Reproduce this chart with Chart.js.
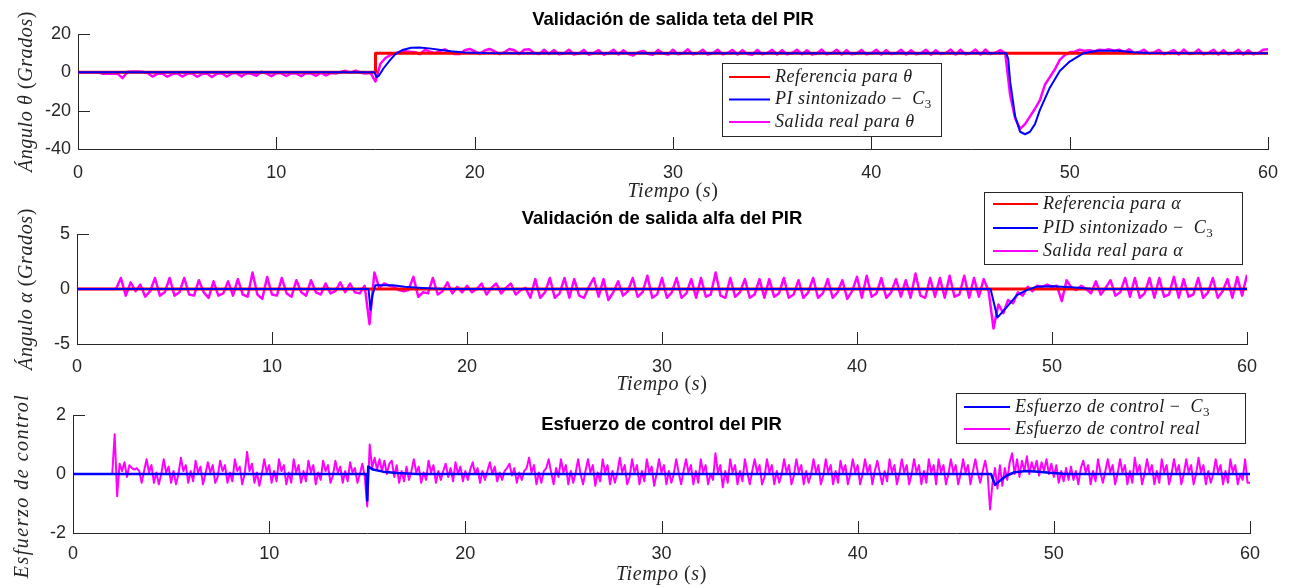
<!DOCTYPE html>
<html lang="es">
<head>
  <meta charset="UTF-8">
  <title>Validación PIR</title>
  <script src="https://cdn.jsdelivr.net/npm/chart.js"></script>
  <style>
    body { margin: 0; background: #fff; }
    #lienzo { position: relative; width: 1293px; height: 588px; overflow: hidden; }
    .panel { position: absolute; left: 0; }
  </style>
</head>
<body>
  <div id="lienzo">
    <canvas id="graficaTeta" class="panel" style="top:0" width="1293" height="205"></canvas>
    <canvas id="graficaAlfa" class="panel" style="top:185px" width="1293" height="210"></canvas>
    <canvas id="graficaEsfuerzo" class="panel" style="top:385px" width="1293" height="203"></canvas>
  </div>
  <script>
    // ---- ejes ----
    const tiempoGrueso = Array.from({ length: 241 }, (_, i) => i * 0.25);  // 0..60 s cada 0.25 s
    const tiempoFino = Array.from({ length: 481 }, (_, i) => i * 0.125);   // 0..60 s cada 0.125 s
    const ticksTiempo = [0, 10, 20, 30, 40, 50, 60];
    const ticksTeta = [-40, -20, 0, 20];
    const ticksAlfa = [-5, 0, 5];
    const ticksEsfuerzo = [-2, 0, 2];

    // ---- grafica 1: teta ----
    const leyendaTeta = ['Referencia para θ', 'PI sintonizado −  C_3', 'Salida real para θ'];
    const refTetaT = [0, 15, 15, 60];
    const refTetaY = [0, 0, 10, 10];
    const piTetaT = [0, 14.95, 15.05, 15.15, 15.25, 15.4, 15.7, 16.0, 16.4, 16.8, 17.2, 17.7, 18.2, 18.8, 19.5, 20.5, 22,
      46.8, 46.9, 47.0, 47.1, 47.25, 47.5, 47.75, 48.0, 48.25, 48.5, 49.0, 49.5, 50.0, 50.7, 51.4, 52.4, 53.2, 54.0, 60];
    const piTetaY = [0, 0, -2.5, -2.0, -0.5, 2, 6, 9.5, 11.8, 12.8, 12.9, 12.5, 11.8, 11.0, 10.4, 10.1, 10,
      10, 7, -5, -12, -23, -31, -32.3, -31, -27, -19.6, -8, 0.7, 5.6, 10, 11.3, 11.3, 10.5, 10.1, 10];
    const salidaTeta = [
      0, 0, 0, 0,   0, -0.8, -0.8, -0.8,   -0.8, -3, 0.3, 0.5,   0.5, 0.3, -0.3, -2.2,
      -0.8, -0.6, -2.3, -1,   -0.5, -2.2, -0.8, -0.5,   -2.3, -0.9, -0.6, -2.4,   -0.7, -0.5, -2.2, -0.6,
      -0.4, -2.1, -0.5, -0.8,   -1.8, 0.3, -0.6, -2.0,   -0.4, -0.5, -1.9, -0.5,   -0.6, -2.0, -0.5, -0.6,
      -1.8, -0.3, -1.6, -0.4,   -0.6, 0.2, 0.8, -0.2,   0.9, -0.2, -0.6, -0.3,   -4.8, 4.5, 7.5, 9,
      10, 10.8, 11, 10.7,   10.5, 9.5, 11.8, 10.8,   10, 11.2, 12, 10.5,   9.5, 9.6, 11.5, 12.2,
      11, 9.6, 11.4, 12.2,   11, 9.5, 10.5, 12.2,   11.5, 9.6, 11.8, 12,   10.2, 9.5, 11.8, 9.6,
      11.6, 9.4, 9.8, 11.8,   9.3, 9.8, 11.7, 9.2,   10, 11.6, 9.2, 10,   11.8, 9.3, 11.5, 9.6,
      8.8, 10.5, 11.2, 9.6,   9.2, 11.7, 9.8, 9.3,   11.8, 9.4, 10, 12,   9.4, 10, 11.8, 9.3,
      10, 11.8, 9.4, 10.1,   11.7, 9.3, 11.6, 9.5,   9.2, 11.7, 9.4, 10,   11.7, 9.3, 11.5, 9.4,
      10.1, 11.8, 9.4, 11.5,   9.3, 9.8, 11.9, 9.4,   10, 11.8, 9.3, 11.6,   9.4, 9.8, 11.7, 9.4,
      10, 11.8, 9.3, 11.6,   9.5, 10, 11.8, 9.3,   11.6, 9.4, 10, 11.8,   9.2, 11.5, 9.5, 10.1,
      11.9, 9.3, 11.8, 9.4,   10, 11.9, 9.3, 11.9,   9.5, 10.2, 11.6, 10,   -12, -24, -29.5, -27,
      -23, -19, -14.5, -6.5,   -2.5, 1.5, 6.5, 9,   10.5, 10.8, 11.8, 11.2,   11.5, 11, 11.8, 11.5,
      12, 11.3, 11.8, 10.6,   12, 10, 10.6, 11.8,   9.8, 10.4, 11.7, 9.5,   10.4, 11.6, 9.3, 11.9,
      9.6, 9.8, 11.9, 9.4,   10.2, 11.8, 9.3, 11.6,   9.4, 10, 11.8, 9.3,   11.5, 9.4, 10, 11.8,
      12
    ];

    // ---- grafica 2: alfa ----
    const leyendaAlfa = ['Referencia para α', 'PID sintonizado −  C_3', 'Salida real para α'];
    const refAlfaT = [0, 60];
    const refAlfaY = [0, 0];
    const pidAlfaT = [0, 14.95, 15.05, 15.15, 15.3, 16.2, 16.8, 17.5, 18.2, 19.0,
      46.85, 47.2, 47.7, 48.2, 48.7, 49.2, 50.0, 51.0, 52.0, 53.0, 60];
    const pidAlfaY = [0, 0, -1.9, -0.6, 0.35, 0.35, 0.2, 0.12, 0.05, 0,
      0, -2.6, -1.6, -0.55, -0.1, 0.2, 0.25, 0.15, 0.03, 0, 0];
    const salidaAlfa = [
      0, 0, 0, 0,   0, 0, 0, 0,   0, 1.0, -0.6, 0.6,   -0.2, 0.4, -0.7, -0.2,
      1.0, -0.6, -0.3, 1.0,   -0.6, -0.3, 1.0, -0.5,   -0.6, 0.8, -0.3, -0.8,   0.7, -0.6, -0.4, 0.7,
      -0.6, 0.9, -0.5, -0.7,   1.5, -0.5, -0.9, 1.1,   -0.5, -0.6, 1.0, -0.4,   -0.7, 0.8, -0.3, -0.6,
      0.8, -0.3, -0.5, 0.5,   -0.4, -0.2, 0.6, -0.3,   0.5, -0.3, -0.4, 0.3,   -3.2, 1.5, 0.1, 0.5,
      0.3, 0.2, -0.1, -0.2,   -0.1, 1.1, -0.7, -0.3,   -0.4, 1.0, -0.5, -0.2,   0.6, -0.4, 0.2, -0.3,
      0.3, -0.3, 0.0, 0.5,   -0.5, 0.1, 0.5, -0.4,   0.1, 0.5, -0.5, -0.1,   0.1, -0.8, 0.9, -0.8,
      -0.3, 1.0, -0.8, -0.4,   1.0, -0.8, 0.9, -0.6,   -0.8, 0.2, 1.0, -0.7,   0.9, -1.0, -0.3, 0.7,
      -0.6, -0.2, 1.0, -0.7,   -0.3, 1.2, -0.8, -0.5,   1.0, -0.8, -0.3, 1.0,   -0.8, -0.4, 0.9, -0.8,
      1.0, -0.7, -0.5, 1.5,   -0.6, -0.8, 1.0, -0.7,   -0.3, 0.9, -0.8, -0.5,   0.9, -0.8, 0.9, -0.7,
      -0.4, 1.0, -0.8, -0.5,   0.8, -0.8, -0.3, 1.0,   -0.8, -0.4, 0.9, -0.8,   -0.3, 0.8, -0.9, -0.2,
      1.1, -0.8, 1.2, -0.7,   -0.4, 1.0, -0.8, -0.3,   0.9, -0.7, 0.8, -0.8,   1.4, -0.6, -0.8, 1.0,
      -0.7, 1.0, -0.8, 1.2,   -0.7, -0.5, 1.2, -0.8,   1.0, -0.7, 0.9, -0.2,   -3.6, -1.4, -2.2, -1.0,
      -1.3, -0.3, -0.6, 0.2,   -0.2, 0.3, 0.2, 0.4,   0.2, 0.3, -1.1, 0.8,   0.1, -0.1, 0.3, 0.0,
      -0.4, 0.7, -0.5, 0.1,   0.8, -0.6, -0.3, 1.0,   -0.7, 1.0, -0.8, -0.4,   1.0, -0.8, 1.0, -0.7,
      -0.5, 1.1, -0.8, 0.9,   -0.7, -0.5, 1.0, -0.8,   -0.3, 1.0, -0.8, -0.2,   0.9, -0.8, 1.1, -0.6,
      1.3
    ];

    // ---- grafica 3: esfuerzo de control ----
    const leyendaEsfuerzo = ['Esfuerzo de control −  C_3', 'Esfuerzo de control real'];
    const esfuerzoC3T = [0, 14.95, 15.0, 15.05, 15.3, 15.8, 16.5, 17.5,
      46.8, 47.0, 47.3, 47.6, 48.0, 48.6, 49.2, 49.8, 50.6, 60];
    const esfuerzoC3Y = [0, 0, -0.9, 0.25, 0.15, 0.08, 0.03, 0,
      0, -0.37, -0.2, -0.05, 0.06, 0.1, 0.08, 0.04, 0, 0];
    const esfuerzoReal = [
      0, 0, 0, 0, 0, 0, 0, 0,
      0, 0, 0, 0, 0, 0, 0, 0,
      0, 1.35, -0.75, 0.35, 0.1, 0.4, -0.1, 0.3,
      0.2, 0.15, 0.2, 0.1, -0.3, 0.1, 0.5, 0.05,
      0.3, -0.3, 0.05, -0.35, 0, 0.5, 0.05, 0.25,
      -0.3, 0.1, -0.35, 0, 0.55, 0.1, 0.3, -0.3,
      0.1, -0.25, 0.45, 0.05, 0.25, -0.35, 0, 0.4,
      0.05, 0.3, -0.3, -0.1, 0.45, 0.1, 0.3, -0.3,
      0.05, -0.25, 0.5, 0.1, 0.25, -0.35, 0, 0.75,
      0.1, 0.35, -0.3, 0.05, -0.4, 0, 0.5, 0.05,
      0.3, -0.3, 0.1, -0.25, 0.5, 0.1, 0.3, -0.35,
      0.05, -0.3, 0.5, 0.05, 0.3, -0.3, 0.1, -0.25,
      0.45, 0.05, 0.3, -0.35, 0.05, -0.2, 0.45, 0.1,
      0.3, -0.3, -0.05, 0.45, 0.05, 0.25, -0.3, 0.1,
      -0.25, 0.4, 0.05, 0.2, -0.3, 0, 0.35, -0.1,
      -1.1, 1.0, 0.2, 0.55, 0.15, 0.5, 0.1, 0.45,
      0, 0.35, 0.45, -0.1, 0.3, -0.3, 0.1, -0.25,
      0.25, -0.2, 0.1, 0.5, 0.05, 0.25, -0.3, 0.05,
      -0.2, 0.45, 0.05, 0.3, -0.3, 0.1, -0.2, 0.1,
      0.35, -0.1, 0.2, -0.25, 0.4, 0, 0.25, -0.25,
      0.1, -0.2, 0.15, 0.4, 0, 0.2, -0.3, 0.1,
      -0.2, 0.1, 0.4, 0, 0.25, -0.25, 0.05, -0.2,
      0.1, 0.2, 0.35, -0.05, 0.2, -0.3, 0.05, -0.2,
      0.1, 0.2, 0.55, 0.05, 0.3, -0.35, 0.05, -0.3,
      0.1, 0.2, 0.5, 0.05, -0.35, 0.2, -0.1, 0.5,
      0.05, 0.3, -0.35, 0.1, -0.3, 0.05, 0.5, 0,
      -0.35, 0.1, 0.5, 0.05, 0.3, -0.4, 0.05, -0.25,
      0.5, 0.05, 0.3, -0.35, 0.1, -0.3, 0.05, 0.55,
      0.05, 0.3, -0.35, -0.1, 0.5, 0.05, 0.3, -0.35,
      0.1, -0.25, 0.5, 0.05, 0.25, -0.4, 0, 0.5,
      0.05, 0.3, -0.35, 0.1, -0.3, 0, 0.5, 0.05,
      -0.35, 0.1, 0.5, 0.05, 0.3, -0.35, 0.1, -0.3,
      0.5, 0.05, 0.3, -0.35, 0, -0.2, 0.7, 0.05,
      0.3, -0.45, 0.1, -0.3, 0.5, 0.05, 0.3, -0.35,
      0.1, -0.25, 0.5, 0.05, -0.35, 0.1, 0.5, 0.05,
      0.3, -0.35, -0.1, 0.5, 0.05, 0.3, -0.35, 0.1,
      -0.3, 0, 0.5, 0.05, 0.3, -0.35, -0.05, 0.5,
      0.05, 0.3, -0.35, 0.1, -0.3, 0, 0.5, 0.05,
      0.3, -0.35, -0.05, 0.5, 0.05, 0.3, -0.35, 0.1,
      -0.3, 0.45, 0.05, 0.3, -0.35, 0, 0.5, 0.05,
      0.3, -0.35, 0, 0.5, 0.05, 0.3, -0.35, 0.1,
      0.45, 0.05, -0.35, 0.1, -0.25, 0.5, 0.05, 0.3,
      -0.35, 0, 0.5, 0.05, 0.3, -0.35, 0, 0.5,
      0.05, 0.3, -0.35, 0.1, -0.3, 0.5, 0.05, 0.3,
      -0.35, 0.5, 0.05, 0.3, -0.35, 0, 0.5, 0.05,
      0.3, -0.35, 0, 0.5, 0.05, 0.3, -0.35, 0.1,
      0.5, 0.05, -0.3, 0.1, 0.45, 0, -1.2, -0.3,
      0.2, -0.5, 0.3, -0.4, 0.2, -0.2, 0.4, 0.7,
      0, 0.5, -0.1, 0.45, 0.1, 0.6, 0, 0.4,
      0.1, 0.45, -0.05, 0.4, 0.1, 0.5, 0, 0.35,
      -0.1, 0.3, -0.3, 0.1, -0.25, 0.2, -0.2, 0.25,
      -0.2, 0.1, -0.35, 0.2, 0.45, 0.05, 0.3, -0.35,
      0.1, -0.25, 0.5, 0.05, -0.3, 0.1, 0.5, 0.05,
      0.3, -0.35, 0, 0.5, 0.05, 0.3, -0.35, 0.1,
      -0.3, 0.55, 0.05, 0.3, -0.35, 0, 0.5, 0.05,
      0.3, -0.35, 0.1, -0.3, 0.5, 0.05, 0.3, -0.35,
      0, 0.5, 0.05, 0.3, -0.35, 0, 0.5, 0.05,
      0.3, -0.35, 0, 0.55, 0.05, 0.3, -0.35, 0.1,
      -0.3, 0, 0.5, 0.05, 0.3, -0.35, 0.1, -0.3,
      0.5, 0.05, 0.3, -0.35, 0, -0.2, 0.5, -0.3,
      -0.3
    ];

    const ROJO = '#ff0000', AZUL = '#0000ff', MAGENTA = '#ff00ff', EJE = '#262626';

    function puntos(ts, ys) {
      return ts.map((t, i) => ({ x: t, y: ys[i] }));
    }

    // texto tipo LaTeX: cursiva, con parentesis/digitos rectos y subindice marcado con _
    const RECTOS = '()−0123456789';
    function trozos(texto) {
      const out = [];
      for (let i = 0; i < texto.length; i++) {
        let c = texto[i], estilo;
        if (c === '_') { c = texto[++i]; estilo = 'sub'; }
        else estilo = RECTOS.includes(c) ? 'recto' : 'cursiva';
        const ult = out[out.length - 1];
        if (ult && ult.estilo === estilo) ult.txt += c; else out.push({ txt: c, estilo });
      }
      return out;
    }
    function fuente(estilo, px) {
      if (estilo === 'cursiva') return `italic ${px}px "Liberation Serif", serif`;
      if (estilo === 'sub') return `${Math.round(px * 0.72)}px "Liberation Serif", serif`;
      return `${px}px "Liberation Serif", serif`;
    }
    function textoMat(ctx, texto, x, y, px, esp, centrado) {
      const partes = trozos(texto);
      ctx.letterSpacing = esp + 'px';
      let ancho = 0;
      partes.forEach(p => { ctx.font = fuente(p.estilo, px); p.w = ctx.measureText(p.txt).width; ancho += p.w; });
      let cx = centrado ? x - ancho / 2 : x;
      ctx.textAlign = 'left';
      ctx.textBaseline = 'middle';
      partes.forEach(p => {
        ctx.font = fuente(p.estilo, px);
        ctx.fillText(p.txt, cx, p.estilo === 'sub' ? y + px * 0.3 : y);
        cx += p.w;
      });
      ctx.letterSpacing = '0px';
    }

    // ticks hacia dentro, titulos, etiquetas y leyenda al estilo MATLAB
    function decoracion(cfg) {
      return {
        id: 'decoracion',
        beforeDatasetsDraw(chart) {
          const { ctx, chartArea: a, scales: { x, y } } = chart;
          ctx.save();
          ctx.strokeStyle = EJE;
          ctx.lineWidth = 1;
          ctx.beginPath();
          x.ticks.forEach(t => {
            const px = Math.round(x.getPixelForValue(t.value)) + 0.5;
            ctx.moveTo(px, a.bottom); ctx.lineTo(px, a.bottom - 12);
          });
          y.ticks.forEach(t => {
            const py = Math.round(y.getPixelForValue(t.value)) + 0.5;
            ctx.moveTo(a.left, py); ctx.lineTo(a.left + 12, py);
          });
          ctx.stroke();
          ctx.restore();
        },
        afterDraw(chart) {
          const { ctx, chartArea: a } = chart;
          const cx = (a.left + a.right) / 2;
          ctx.save();
          // titulo
          ctx.fillStyle = '#000';
          ctx.font = 'bold 18.5px "Liberation Sans", Arial, sans-serif';
          ctx.textAlign = 'center';
          ctx.textBaseline = 'middle';
          ctx.fillText(cfg.titulo, cx, cfg.tituloY);
          // etiquetas de ejes
          ctx.fillStyle = EJE;
          textoMat(ctx, 'Tiempo (s)', cx, cfg.xLabelY, 20, 0.6, true);
          ctx.save();
          ctx.translate(cfg.yLabelX, cfg.yLabelY || (a.top + a.bottom) / 2);
          ctx.rotate(-Math.PI / 2);
          textoMat(ctx, cfg.yLabel, 0, 0, 20, cfg.yLabelEsp || 0.6, true);
          ctx.restore();
          // leyenda
          const L = cfg.leyenda;
          ctx.fillStyle = '#fff';
          ctx.fillRect(L.x, L.y, L.w, L.h);
          ctx.strokeStyle = EJE;
          ctx.lineWidth = 1;
          ctx.strokeRect(L.x + 0.5, L.y + 0.5, L.w, L.h);
          L.etiquetas.forEach((et, i) => {
            const fy = L.y + L.filas[i];
            ctx.strokeStyle = L.colores[i];
            ctx.lineWidth = 2;
            ctx.beginPath();
            ctx.moveTo(L.linea[0], fy); ctx.lineTo(L.linea[1], fy);
            ctx.stroke();
            ctx.fillStyle = '#1a1a1a';
            textoMat(ctx, et, L.texto, fy, 18, 0.5, false);
          });
          ctx.restore();
        }
      };
    }

    function opciones(p) {
      const fuenteTick = { family: '"Liberation Sans", Arial, sans-serif', size: 18 };
      return {
        responsive: false,
        animation: false,
        events: [],
        layout: { padding: { left: 0, top: p.arriba, right: 1293 - p.der, bottom: 0 } },
        elements: { point: { radius: 0 }, line: { tension: 0, borderJoinStyle: 'round' } },
        plugins: { legend: { display: false }, tooltip: { enabled: false }, title: { display: false } },
        scales: {
          x: {
            type: 'linear', min: 0, max: 60,
            afterBuildTicks: s => { s.ticks = ticksTiempo.map(v => ({ value: v })); },
            afterFit: s => { s.height = p.alto - p.abajo; },
            ticks: { color: EJE, font: fuenteTick, padding: p.padX, maxRotation: 0 },
            grid: { display: false, drawTicks: false },
            border: { display: true, color: EJE, width: 1 }
          },
          y: {
            type: 'linear', min: p.yMin, max: p.yMax,
            afterBuildTicks: s => { s.ticks = p.ticksY.map(v => ({ value: v })); },
            afterFit: s => { s.width = p.izq; },
            ticks: { color: EJE, font: fuenteTick, padding: 7 },
            grid: { display: false, drawTicks: false },
            border: { display: true, color: EJE, width: 1 }
          }
        }
      };
    }

    new Chart(document.getElementById('graficaTeta'), {
      type: 'line',
      data: {
        datasets: [
          { label: leyendaTeta[1], data: puntos(piTetaT, piTetaY), borderColor: AZUL, borderWidth: 2, order: 1 },
          { label: leyendaTeta[0], data: puntos(refTetaT, refTetaY), borderColor: ROJO, borderWidth: 3, order: 2 },
          { label: leyendaTeta[2], data: puntos(tiempoGrueso, salidaTeta), borderColor: MAGENTA, borderWidth: 2.5, order: 3 }
        ]
      },
      options: opciones({ alto: 205, izq: 78, der: 1268, arriba: 34, abajo: 149, padX: 13,
        yMin: -40, yMax: 20, ticksY: ticksTeta }),
      plugins: [decoracion({
        titulo: 'Validación de salida teta del PIR', tituloY: 20, xLabelY: 192,
        yLabel: 'Ángulo θ (Grados)', yLabelX: 27,
        leyenda: { x: 722, y: 63, w: 219, h: 73, filas: [14, 36.5, 59], linea: [729, 770], texto: 775,
          etiquetas: leyendaTeta, colores: [ROJO, AZUL, MAGENTA] }
      })]
    });

    new Chart(document.getElementById('graficaAlfa'), {
      type: 'line',
      data: {
        datasets: [
          { label: leyendaAlfa[1], data: puntos(pidAlfaT, pidAlfaY), borderColor: AZUL, borderWidth: 2, order: 1 },
          { label: leyendaAlfa[0], data: puntos(refAlfaT, refAlfaY), borderColor: ROJO, borderWidth: 3, order: 2 },
          { label: leyendaAlfa[2], data: puntos(tiempoGrueso, salidaAlfa), borderColor: MAGENTA, borderWidth: 2.5, order: 3 }
        ]
      },
      options: opciones({ alto: 210, izq: 77, der: 1247, arriba: 49, abajo: 159, padX: 12,
        yMin: -5, yMax: 5, ticksY: ticksAlfa }),
      plugins: [decoracion({
        titulo: 'Validación de salida alfa del PIR', tituloY: 34, xLabelY: 200,
        yLabel: 'Ángulo α (Grados)', yLabelX: 27,
        leyenda: { x: 984, y: 7, w: 258, h: 72, filas: [12, 36, 59], linea: [993, 1038], texto: 1043,
          etiquetas: leyendaAlfa, colores: [ROJO, AZUL, MAGENTA] }
      })]
    });

    new Chart(document.getElementById('graficaEsfuerzo'), {
      type: 'line',
      data: {
        datasets: [
          { label: leyendaEsfuerzo[0], data: puntos(esfuerzoC3T, esfuerzoC3Y), borderColor: AZUL, borderWidth: 2.5, order: 1 },
          { label: leyendaEsfuerzo[1], data: puntos(tiempoFino, esfuerzoReal), borderColor: MAGENTA, borderWidth: 2, order: 2 }
        ]
      },
      options: opciones({ alto: 203, izq: 73, der: 1250, arriba: 30, abajo: 148, padX: 10,
        yMin: -2, yMax: 2, ticksY: ticksEsfuerzo }),
      plugins: [decoracion({
        titulo: 'Esfuerzo de control del PIR', tituloY: 40, xLabelY: 190,
        yLabel: 'Esfuerzo de control', yLabelX: 23, yLabelY: 101, yLabelEsp: 1.5,
        leyenda: { x: 956, y: 8, w: 289, h: 50, filas: [14, 36], linea: [964, 1010], texto: 1015,
          etiquetas: leyendaEsfuerzo, colores: [AZUL, MAGENTA] }
      })]
    });
  </script>
</body>
</html>
